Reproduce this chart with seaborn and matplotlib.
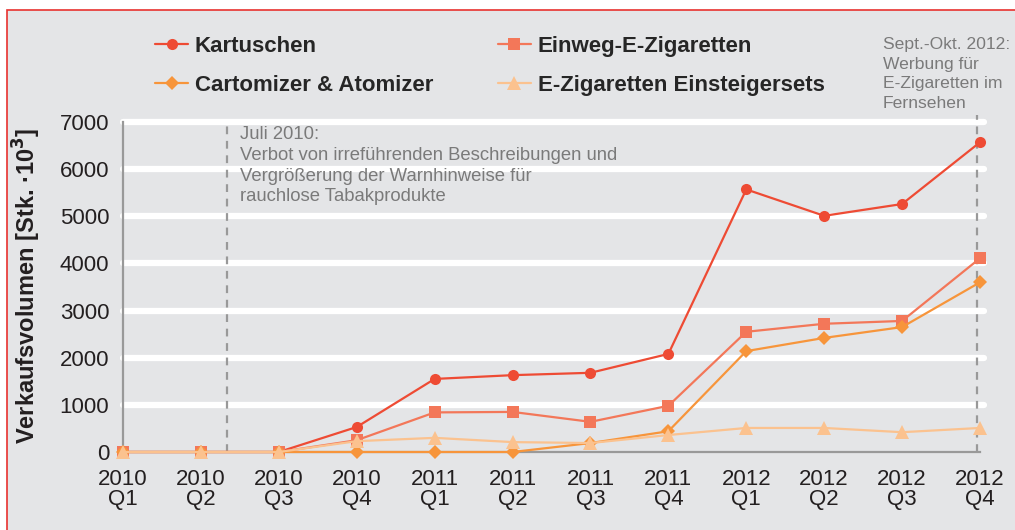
import pandas as pd
import seaborn as sns
import matplotlib.pyplot as plt
import matplotlib.patches as mpatches

quarters = ['2010\nQ1', '2010\nQ2', '2010\nQ3', '2010\nQ4',
            '2011\nQ1', '2011\nQ2', '2011\nQ3', '2011\nQ4',
            '2012\nQ1', '2012\nQ2', '2012\nQ3', '2012\nQ4']

kartuschen = [0, 0, 0, 530, 1550, 1630, 1680, 2080, 5570, 5010, 5260, 6570]
einweg = [0, 0, 0, 250, 840, 850, 640, 980, 2550, 2720, 2780, 4110]
cartomizer = [0, 0, 0, 0, 0, 0, 190, 440, 2140, 2420, 2650, 3600]
einsteiger = [0, 0, 0, 230, 300, 210, 190, 360, 510, 510, 420, 510]

series_names = ['Kartuschen', 'Einweg-E-Zigaretten', 'Cartomizer & Atomizer',
                'E-Zigaretten Einsteigersets']
series_values = [kartuschen, einweg, cartomizer, einsteiger]

colors = {
    'Kartuschen': '#ee4b34',
    'Einweg-E-Zigaretten': '#f37759',
    'Cartomizer & Atomizer': '#f7953b',
    'E-Zigaretten Einsteigersets': '#fbc28f',
}
markers = {
    'Kartuschen': 'o',
    'Einweg-E-Zigaretten': 's',
    'Cartomizer & Atomizer': 'D',
    'E-Zigaretten Einsteigersets': '^',
}
msizes = {'o': 8, 's': 8, 'D': 7, '^': 9.5}

rows = []
for name, vals in zip(series_names, series_values):
    for i, v in enumerate(vals):
        rows.append({'pos': i, 'value': v, 'series': name})
df = pd.DataFrame(rows)

sns.set_style('white')
plt.rcParams['font.family'] = ['Liberation Sans', 'DejaVu Sans']

fig = plt.figure(figsize=(10.15, 5.3), dpi=100)
fig.patch.set_facecolor('white')
panel = mpatches.Rectangle((7 / 1015, -0.05), 1.1, 1 - 10 / 530 + 0.05,
                           transform=fig.transFigure, facecolor='#e4e5e7',
                           edgecolor='#e8312f', linewidth=1.2, zorder=-5)
fig.patches.append(panel)

ax = fig.add_axes([123 / 1015, 1 - 452 / 530, (980 - 123) / 1015, 330 / 530])
ax.set_facecolor('none')
ax.set_zorder(1)

for yv in range(1000, 8000, 1000):
    ax.axhline(yv, color='white', lw=4.5, zorder=1, xmax=1.005, clip_on=False)

ax.axvline(1.33, color='#999999', lw=1.6, ls=(0, (3.5, 3)), zorder=2)
ax.axvline(10.96, color='#999999', lw=1.6, ls=(0, (3.5, 3)), zorder=2,
           ymax=1.02, clip_on=False)

handles = {}
for k, name in enumerate(series_names):
    sub = df[df['series'] == name]
    m = markers[name]
    sns.lineplot(data=sub, x='pos', y='value', ax=ax, color=colors[name],
                 marker=m, markersize=msizes[m], markeredgewidth=0,
                 linewidth=1.6, label=name, zorder=3 + k, clip_on=False)
    handles[name] = ax.get_lines()[-1]
ax.get_legend().remove()

ax.set_xlim(0, 11)
ax.set_ylim(0, 7000)
ax.set_xticks(range(len(quarters)))
ax.set_xticklabels(quarters, linespacing=0.95)
ax.set_yticks(range(0, 8000, 1000))
ax.tick_params(axis='both', labelsize=16, colors='#999999', labelcolor='#231f20',
               length=7, width=1.6, direction='out')
ax.tick_params(axis='x', pad=5)
ax.tick_params(axis='y', pad=3)
for side in ['top', 'right']:
    ax.spines[side].set_visible(False)
for side in ['left', 'bottom']:
    ax.spines[side].set_color('#999999')
    ax.spines[side].set_linewidth(1.6)
    ax.spines[side].set_zorder(2)
ax.set_xlabel('')
ax.set_ylabel('Verkaufsvolumen [Stk. ·10$^{\\mathbf{3}}$]', fontsize=17,
              fontweight='bold', color='#231f20')
ax.yaxis.set_label_coords(-0.093, 0.505)

order = ['Kartuschen', 'Cartomizer & Atomizer', 'Einweg-E-Zigaretten',
         'E-Zigaretten Einsteigersets']
fig.legend([handles[n] for n in order], order, ncol=2, frameon=False,
           loc='upper left', bbox_to_anchor=(155 / 1015, 1 - 36 / 530),
           prop={'weight': 'bold', 'size': 16}, handlelength=1.5,
           handletextpad=0.3, columnspacing=2.9, labelspacing=0.8,
           borderpad=0, borderaxespad=0)

ax.text(1.5, 6920, 'Juli 2010:\nVerbot von irreführenden Beschreibungen und\n'
        'Vergrößerung der Warnhinweise für\nrauchlose Tabakprodukte',
        fontsize=13.3, color='#7a7a7a', va='top', ha='left', linespacing=1.3,
        zorder=6)
fig.text(883 / 1015, 1 - 37 / 530,
         'Sept.-Okt. 2012:\nWerbung für\nE-Zigaretten im\nFernsehen',
         fontsize=12.6, color='#7a7a7a', va='top', ha='left', linespacing=1.38)

fig.savefig('out.png', dpi=100)
